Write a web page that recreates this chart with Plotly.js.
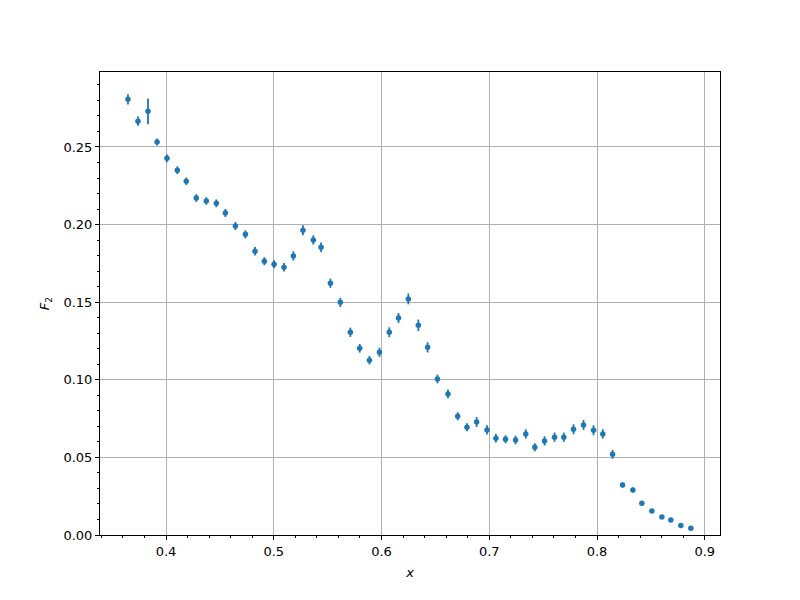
<!DOCTYPE html>
<html>
<head>
<meta charset="utf-8">
<script src="https://cdn.plot.ly/plotly-3.0.1.min.js"></script>
<style>html,body{margin:0;padding:0;background:#fff;}</style>
</head>
<body>
<div id="chart" style="width:800px;height:600px;"></div>
<script>
const xValues = [0.3647,0.3740,0.3833,0.3917,0.4009,0.4105,0.4188,0.4281,0.4374,0.4467,
  0.4551,0.4644,0.4737,0.4826,0.4913,0.5003,0.5095,0.5182,0.5271,0.5367,
  0.5439,0.5526,0.5618,0.5711,0.5798,0.5888,0.5981,0.6072,0.6158,0.6249,
  0.6342,0.6428,0.6519,0.6617,0.6707,0.6793,0.6883,0.6979,0.7062,0.7151,
  0.7244,0.7339,0.7423,0.7513,0.7606,0.7692,0.7782,0.7875,0.7968,0.8054,
  0.8144,0.8237,0.8333,0.8416,0.8509,0.8602,0.8685,0.8778,0.8871];
const f2Values = [0.2807,0.2666,0.2730,0.2532,0.2427,0.2350,0.2279,0.2171,0.2152,0.2137,
  0.2075,0.1991,0.1937,0.1828,0.1764,0.1744,0.1725,0.1798,0.1963,0.1901,
  0.1854,0.1622,0.1499,0.1306,0.1203,0.1126,0.1177,0.1306,0.1398,0.1521,
  0.1351,0.1209,0.1005,0.0909,0.0765,0.0694,0.0728,0.0677,0.0623,0.0617,
  0.0612,0.0651,0.0565,0.0606,0.0630,0.0630,0.0681,0.0709,0.0675,0.0651,
  0.0520,0.0322,0.0290,0.0204,0.0155,0.0116,0.0097,0.0062,0.0043];
const f2Errors = [0.0033,0.0030,0.0083,0.0022,0.0025,0.0025,0.0024,0.0025,0.0024,0.0025,
  0.0026,0.0026,0.0026,0.0027,0.0026,0.0026,0.0027,0.0030,0.0032,0.0030,
  0.0030,0.0030,0.0030,0.0030,0.0028,0.0027,0.0030,0.0032,0.0032,0.0035,
  0.0037,0.0033,0.0028,0.0028,0.0026,0.0026,0.0032,0.0030,0.0027,0.0026,
  0.0028,0.0030,0.0026,0.0030,0.0030,0.0030,0.0032,0.0032,0.0032,0.0030,
  0.0028,0.0016,0.0016,0.0010,0.0008,0.0006,0.0005,0.0004,0.0003];
const xTickVals = [0.4,0.5,0.6,0.7,0.8,0.9];
const yTickVals = [0,0.05,0.10,0.15,0.20,0.25];

const trace = {
  x: xValues, y: f2Values, type: 'scatter', mode: 'markers',
  marker: {color: '#1f77b4', size: 5.5},
  error_y: {type: 'data', array: f2Errors, visible: true, color: '#1f77b4', thickness: 1.8, width: 0}
};

const axisCommon = {
  showline: true, linecolor: 'black', linewidth: 1, mirror: true,
  ticks: 'outside', ticklen: 4, tickwidth: 1, tickcolor: 'black',
  showgrid: true, gridcolor: '#b0b0b0', gridwidth: 1,
  zeroline: false,
  tickfont: {family: 'DejaVu Sans', size: 13, color: 'black'}
};

const layout = {
  width: 800, height: 600,
  margin: {l: 100, r: 80, t: 72, b: 65},
  paper_bgcolor: 'white', plot_bgcolor: 'white',
  showlegend: false,
  font: {family: 'DejaVu Sans', size: 13, color: 'black'},
  xaxis: Object.assign({}, axisCommon, {
    range: [0.33875, 0.91415],
    tickvals: xTickVals, ticktext: xTickVals.map(v => v.toFixed(1)),
    minor: {dtick: 0.02, tick0: 0, ticks: 'outside', ticklen: 2, tickcolor: 'black', showgrid: false},
    title: {text: '<i>x</i>', font: {family: 'DejaVu Sans', size: 13}, standoff: 10}
  }),
  yaxis: Object.assign({}, axisCommon, {
    range: [0, 0.2983],
    tickvals: yTickVals, ticktext: yTickVals.map(v => v.toFixed(2)),
    minor: {dtick: 0.01, tick0: 0, ticks: 'outside', ticklen: 2, tickcolor: 'black', showgrid: false},
    title: {text: '<i>F</i><sub>2</sub>', font: {family: 'DejaVu Sans', size: 13}, standoff: 10}
  })
};

Plotly.newPlot('chart', [trace], layout, {displayModeBar: false, staticPlot: true});
</script>
</body>
</html>
